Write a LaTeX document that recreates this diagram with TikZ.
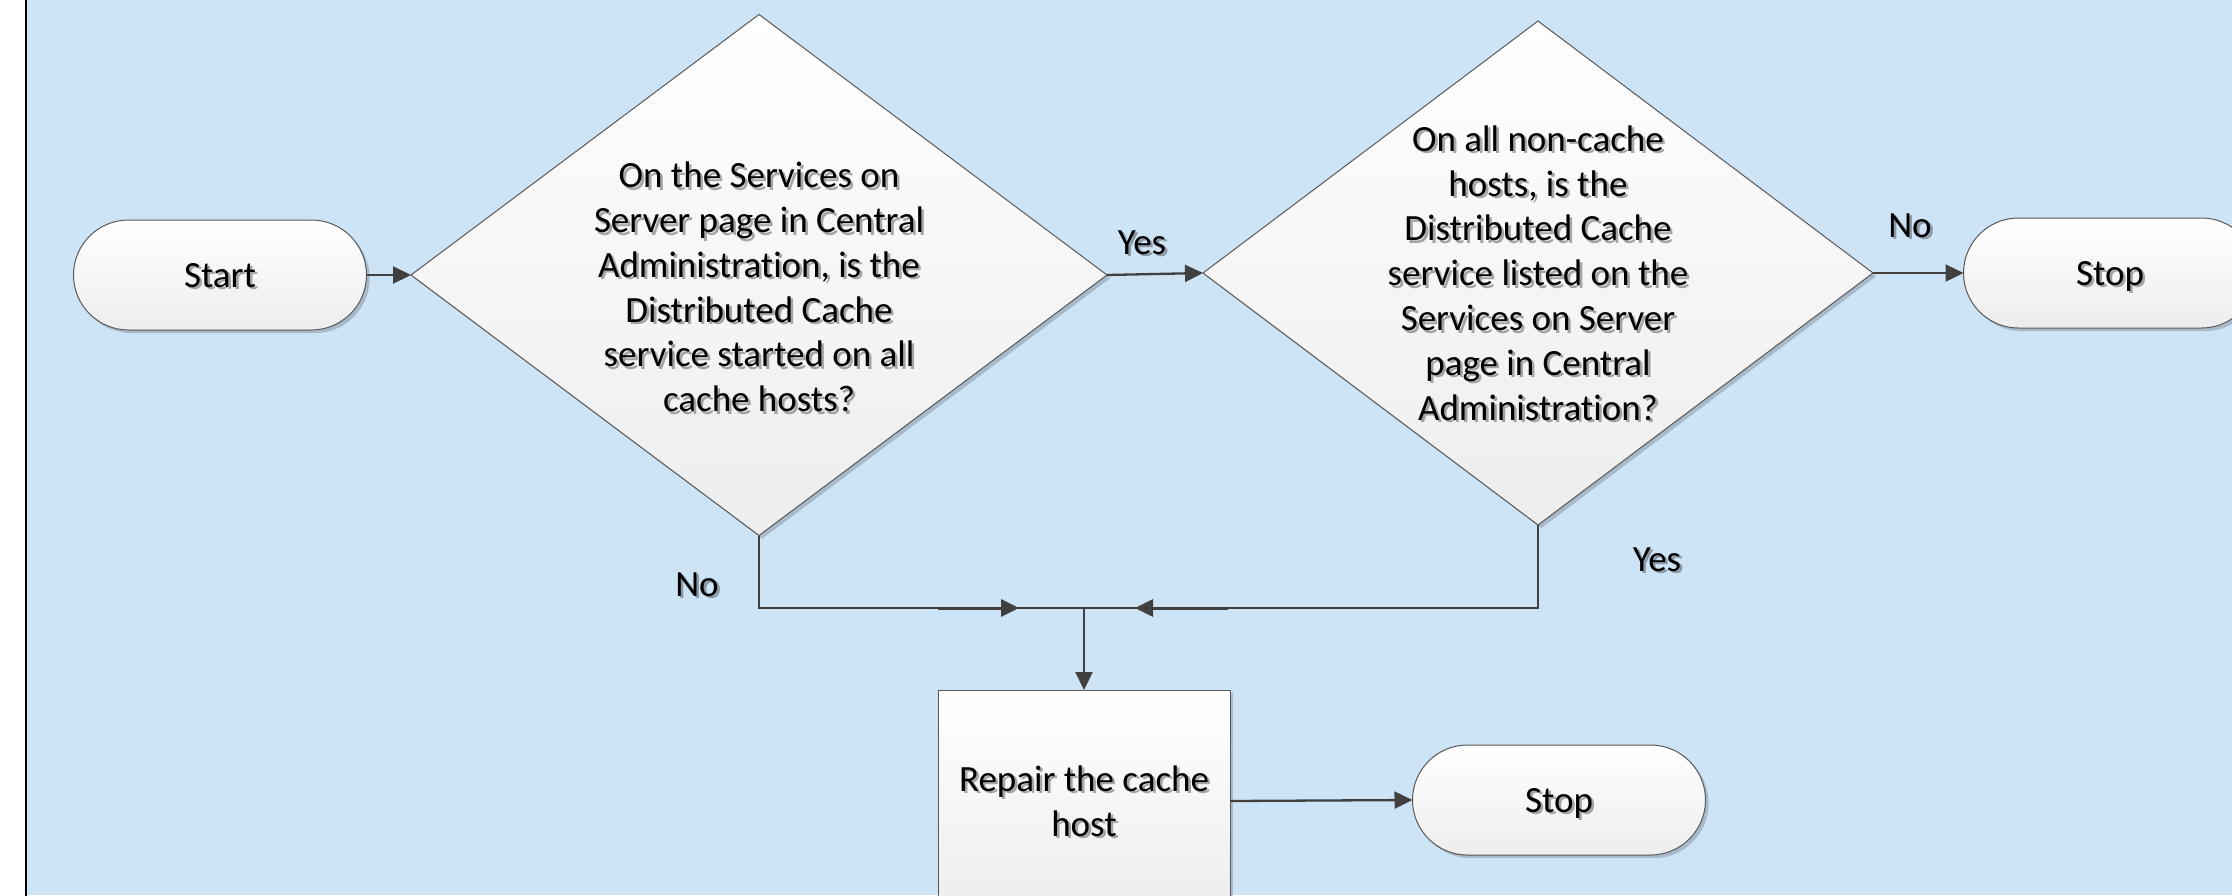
\documentclass[tikz,border=0pt]{standalone}
\usepackage{fontspec}
\setmainfont{Carlito}[Ligatures=NoCommon]
\usetikzlibrary{shapes.geometric,shapes.misc,shadows,arrows.meta}
\definecolor{bgblue}{HTML}{CDE4F6}
\definecolor{linegrey}{HTML}{404040}
\tikzset{
  shapebase/.style={draw=black!65, line width=0.5pt, top color=white, bottom color=black!7,
    outer sep=0pt, inner sep=0pt,
    drop shadow={shadow xshift=1.6pt, shadow yshift=-1.6pt, fill=black, opacity=0.18}},
  term/.style={shapebase, rounded rectangle, minimum width=146.5pt, minimum height=55pt},
  dia/.style={shapebase, diamond},
  proc/.style={shapebase, rectangle, minimum width=146pt, minimum height=111pt},
  txt/.style={font=\fontsize{18.5}{22.4}\selectfont, align=center, inner sep=0pt, text=black},
  txtsh/.style={txt, text opacity=0.33, xshift=1.3pt, yshift=-1.3pt},
  one/.style={text height=14pt, text depth=2pt},
  conn/.style={draw=linegrey, line width=1.15pt},
  arr/.style={conn, -{Triangle[length=9pt,width=8.5pt]}},
}
% #1 name, #2 position, #3 extra options, #4 text
\newcommand\shtext[4]{\node[txtsh,#3] (#1-sh) at (#2) {#4};\node[txt,#3] (#1) at (#2) {#4};}
\begin{document}
\begin{tikzpicture}[x=0.5pt,y=-0.5pt]
\path[use as bounding box] (0,0) rectangle (2232,895);
\clip (0,0) rectangle (2232,895);
\fill[white] (0,0) rectangle (2232,895);
\fill[bgblue] (26,0) rectangle (2232,895);
\draw[black, line width=1.2pt] (26,-5) -- (26,900);

% shapes
\node[term] (start) at (220,275) {};
\shtext{starttxt}{start}{one}{Start}

\node[dia, minimum width=348pt, minimum height=260.5pt] (d1) at (759,275) {};
\shtext{d1txt}{759,287}{}{On the Services on\\Server page in Central\\Administration, is the\\Distributed Cache\\service started on all\\cache hosts?}

\node[dia, minimum width=335pt, minimum height=252pt] (d2) at (1538,273) {};
\shtext{d2txt}{1538,273}{}{On all non-cache\\hosts, is the\\Distributed Cache\\service listed on the\\Services on Server\\page in Central\\Administration?}

\node[term] (stop1) at (2110,273) {};
\shtext{stop1txt}{stop1}{one}{Stop}

\node[proc] (repair) at (1084,801) {};
\shtext{repairtxt}{repair}{}{Repair the cache\\host}

\node[term] (stop2) at (1559,800) {};
\shtext{stop2txt}{stop2}{one}{Stop}

% connectors
\draw[arr] (start.east) -- (d1.west);
\draw[arr] (d1.east) -- (d2.west);
\draw[arr] (d2.east) -- (stop1.west);
\coordinate (j) at (1084,608);
\draw[conn] (d1.south) |- (j);
\draw[conn] (d2.south) |- (j);
\coordinate (la) at (938,608);
\coordinate (lb) at (1019,608);
\draw[arr, line width=1.5pt] (la) -- (lb);
\coordinate (ra) at (1228,608);
\coordinate (rb) at (1135,608);
\draw[arr, line width=1.5pt] (ra) -- (rb);
\draw[arr] (j) -- (repair.north);
\draw[arr] (repair.east) -- (stop2.west);

% labels
\shtext{lyes1}{1142,242}{one}{Yes}
\shtext{lno1}{1910,225}{one}{No}
\shtext{lno2}{697,584}{one}{No}
\shtext{lyes2}{1657,559}{one}{Yes}
\end{tikzpicture}
\end{document}
